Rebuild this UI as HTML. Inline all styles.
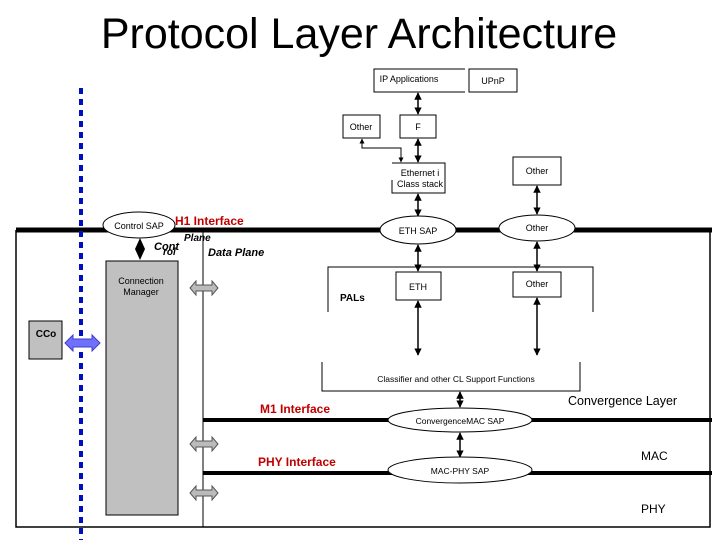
<!DOCTYPE html>
<html><head><meta charset="utf-8"><style>body{margin:0;background:#fff}svg{display:block}text{font-family:"Liberation Sans",sans-serif}</style></head><body>
<svg width="720" height="540" viewBox="0 0 720 540" xmlns="http://www.w3.org/2000/svg">
<defs>
<marker id="a" viewBox="0 0 10 10" refX="9" refY="5" markerWidth="5" markerHeight="6" orient="auto-start-reverse"><path d="M0,0L10,5L0,10z" fill="#000"/></marker>
<g id="ga"><path d="M-14,0L-8,-7V-3H8V-7L14,0L8,7V3H-8V7Z" fill="#bbb" stroke="#555" stroke-width="1"/></g>
</defs>
<text x="359" y="48" font-size="43" text-anchor="middle">Protocol Layer Architecture</text>
<path d="M16,230V527H710V230" fill="none" stroke="#000" stroke-width="1.5"/>
<line x1="16" y1="230" x2="712" y2="230" stroke="#000" stroke-width="5"/>
<line x1="203" y1="230" x2="203" y2="527" stroke="#000" stroke-width="1"/>
<line x1="81" y1="88" x2="81" y2="540" stroke="#0010c0" stroke-width="4" stroke-dasharray="6,5"/>
<ellipse cx="139" cy="225" rx="36" ry="13" fill="#fff" stroke="#000"/>
<text x="139" y="229" font-size="9" text-anchor="middle">Control SAP</text>
<text x="175" y="225" font-size="12" font-weight="bold" fill="#c00000">H1 Interface</text>
<path d="M140,238L145,249L140,260L135,249Z" fill="#000"/>
<text x="154" y="250" font-size="11" font-weight="bold" font-style="italic">Cont</text>
<text x="163" y="255" font-size="10" font-weight="bold" font-style="italic">rol</text>
<text x="184" y="241" font-size="10" font-weight="bold" font-style="italic">Plane</text>
<text x="208" y="256" font-size="11" font-weight="bold" font-style="italic">Data Plane</text>
<rect x="106" y="261" width="72" height="254" fill="#c0c0c0" stroke="#000"/>
<text x="141" y="284" font-size="9" text-anchor="middle">Connection</text>
<text x="141" y="295" font-size="9" text-anchor="middle">Manager</text>
<rect x="29" y="321" width="33" height="38" fill="#c0c0c0" stroke="#000"/>
<text x="46" y="337" font-size="10" font-weight="bold" text-anchor="middle">CCo</text>
<path d="M65,343L73,335V339H92V335L100,343L92,351V347H73V351Z" fill="#7070ff" stroke="#4040c0"/>
<use href="#ga" x="204" y="288"/>
<use href="#ga" x="204" y="444"/>
<use href="#ga" x="204" y="493"/>
<path d="M465,69H374V92H465" fill="none" stroke="#000"/>
<text x="409" y="82" font-size="9" text-anchor="middle">IP Applications</text>
<rect x="469" y="69" width="48" height="23" fill="#fff" stroke="#000"/>
<text x="493" y="84" font-size="9" text-anchor="middle">UPnP</text>
<rect x="400" y="115" width="36" height="23" fill="#fff" stroke="#000"/>
<text x="418" y="130" font-size="9" text-anchor="middle">F</text>
<rect x="343" y="115" width="37" height="23" fill="#fff" stroke="#000"/>
<text x="361" y="130" font-size="9" text-anchor="middle">Other</text>
<path d="M392,163H445V193H392V180" fill="none" stroke="#000"/>
<text x="420" y="176" font-size="9" text-anchor="middle">Ethernet i</text>
<text x="420" y="187" font-size="9" text-anchor="middle">Class stack</text>
<rect x="513" y="157" width="48" height="28" fill="#fff" stroke="#000"/>
<text x="537" y="174" font-size="9" text-anchor="middle">Other</text>
<g stroke="#000" stroke-width="1.5" marker-start="url(#a)" marker-end="url(#a)">
<line x1="418" y1="93" x2="418" y2="114"/>
<line x1="418" y1="139" x2="418" y2="162"/>
<line x1="418" y1="194" x2="418" y2="216"/>
<line x1="418" y1="245" x2="418" y2="271"/>
<line x1="418" y1="301" x2="418" y2="355"/>
<line x1="537" y1="186" x2="537" y2="214"/>
<line x1="537" y1="242" x2="537" y2="271"/>
<line x1="537" y1="298" x2="537" y2="355"/>
<line x1="460" y1="392" x2="460" y2="407"/>
<line x1="460" y1="433" x2="460" y2="457"/>
</g>
<path d="M362,139V148H401V162" fill="none" stroke="#000" marker-start="url(#a)" marker-end="url(#a)"/>
<ellipse cx="418" cy="230" rx="38" ry="14" fill="#fff" stroke="#000"/>
<text x="418" y="234" font-size="9" text-anchor="middle">ETH SAP</text>
<ellipse cx="537" cy="228" rx="38" ry="13" fill="#fff" stroke="#000"/>
<text x="537" y="231" font-size="9" text-anchor="middle">Other</text>
<path d="M328,312V267H593V312" fill="none" stroke="#000"/>
<text x="340" y="301" font-size="10" font-weight="bold">PALs</text>
<rect x="396" y="272" width="45" height="28" fill="#fff" stroke="#000"/>
<text x="418" y="290" font-size="9" text-anchor="middle">ETH</text>
<rect x="513" y="272" width="48" height="25" fill="#fff" stroke="#000"/>
<text x="537" y="287" font-size="9" text-anchor="middle">Other</text>
<path d="M322,362V391H580V362" fill="none" stroke="#000"/>
<text x="456" y="382" font-size="8.5" text-anchor="middle">Classifier and other CL Support Functions</text>
<line x1="203" y1="420" x2="712" y2="420" stroke="#000" stroke-width="4"/>
<line x1="203" y1="473" x2="712" y2="473" stroke="#000" stroke-width="4"/>
<ellipse cx="460" cy="420" rx="72" ry="12" fill="#fff" stroke="#000"/>
<text x="460" y="424" font-size="8.5" text-anchor="middle">ConvergenceMAC SAP</text>
<ellipse cx="460" cy="470" rx="72" ry="13" fill="#fff" stroke="#000"/>
<text x="460" y="474" font-size="8.5" text-anchor="middle">MAC-PHY SAP</text>
<text x="260" y="413" font-size="12" font-weight="bold" fill="#c00000">M1 Interface</text>
<text x="258" y="466" font-size="12" font-weight="bold" fill="#c00000">PHY Interface</text>
<text x="568" y="405" font-size="12.5">Convergence Layer</text>
<text x="641" y="460" font-size="12">MAC</text>
<text x="641" y="513" font-size="12">PHY</text>
</svg>
</body></html>
